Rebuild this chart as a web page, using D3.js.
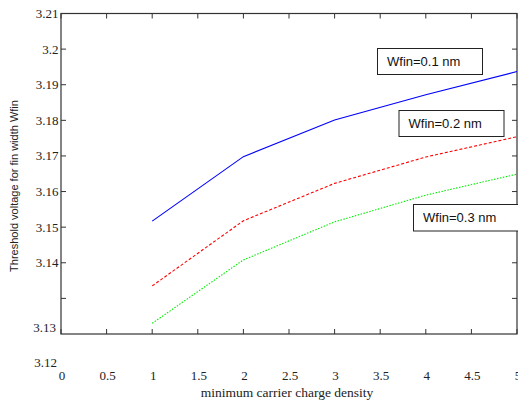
<!DOCTYPE html>
<html><head><meta charset="utf-8">
<script src="https://cdn.jsdelivr.net/npm/d3@7"></script>
<style>body{margin:0;background:#fff}svg{display:block}</style>
</head><body>
<svg id="c" width="518" height="403"></svg>
<script>
const xValues = [1, 2, 3, 4, 5];
const seriesNames = ["Wfin=0.1 nm", "Wfin=0.2 nm", "Wfin=0.3 nm"];
const wfin01 = [3.1517, 3.1698, 3.1801, 3.1872, 3.1937];
const wfin02 = [3.1335, 3.1518, 3.1623, 3.1697, 3.1754];
const wfin03 = [3.1230, 3.1408, 3.1515, 3.1590, 3.1649];
const xTicks = [0, 0.5, 1, 1.5, 2, 2.5, 3, 3.5, 4, 4.5, 5];
const yTicks = [3.13, 3.14, 3.15, 3.16, 3.17, 3.18, 3.19, 3.2, 3.21];
const yTickLabels = ["", "3.14", "3.15", "3.16", "3.17", "3.18", "3.19", "3.2", "3.21"];
const extraYLabels = ["3.13", "3.12"];
const colors = ["#0000ff", "#ff0000", "#00ee00"];
const dashes = [null, "3,2", "1.5,1.5"];

const svg = d3.select("#c");
const L = 61, R = 517, T = 13.5, B = 334;
const x = d3.scaleLinear().domain([0, 5]).range([L, R]);
const y = d3.scaleLinear().domain([3.12, 3.21]).range([B, T]);
const axisColor = "#333";
const serif = "'Liberation Serif','Times New Roman',serif";
const sans = "'Liberation Sans',Arial,sans-serif";
const fs = 13;

svg.append("rect").attr("x", L).attr("y", T).attr("width", R - L).attr("height", B - T)
  .attr("fill", "none").attr("stroke", axisColor).attr("stroke-width", 1.2);

const tl = 5;
const gx = svg.append("g").attr("stroke", axisColor).attr("stroke-width", 1);
xTicks.forEach(t => {
  gx.append("line").attr("x1", x(t)).attr("x2", x(t)).attr("y1", B).attr("y2", B - tl);
  gx.append("line").attr("x1", x(t)).attr("x2", x(t)).attr("y1", T).attr("y2", T + tl);
});
yTicks.forEach(t => {
  gx.append("line").attr("x1", L).attr("x2", L + tl).attr("y1", y(t)).attr("y2", y(t));
  gx.append("line").attr("x1", R).attr("x2", R - tl).attr("y1", y(t)).attr("y2", y(t));
});

yTicks.forEach((t, i) => {
  svg.append("text").attr("x", 58.5).attr("y", y(t)).attr("dy", "0.35em")
    .attr("text-anchor", "end").attr("font-family", serif).attr("font-size", fs)
    .attr("fill", "#222").text(yTickLabels[i]);
});
svg.append("text").attr("x", 56).attr("y", 332).attr("text-anchor", "end")
  .attr("font-family", serif).attr("font-size", fs).attr("fill", "#222").text(extraYLabels[0]);
svg.append("text").attr("x", 57).attr("y", 367).attr("text-anchor", "end")
  .attr("font-family", serif).attr("font-size", fs).attr("fill", "#222").text(extraYLabels[1]);

xTicks.forEach(t => {
  svg.append("text").attr("x", x(t) + 1).attr("y", 380).attr("text-anchor", "middle")
    .attr("font-family", serif).attr("font-size", fs).attr("fill", "#222").text(d3.format("")(t));
});
svg.append("text").attr("x", 287).attr("y", 397).attr("text-anchor", "middle")
  .attr("font-family", serif).attr("font-size", 13.5).attr("fill", "#222").text("minimum carrier charge density");
svg.append("text").attr("transform", "translate(18,186) rotate(-90)").attr("text-anchor", "middle")
  .attr("font-family", sans).attr("font-size", 11).attr("fill", "#222").text("Threshold voltage for fin width Wfin");

const line = d3.line().x((d, i) => x(xValues[i])).y(d => y(d));
[wfin01, wfin02, wfin03].forEach((s, i) => {
  svg.append("path").datum(s).attr("d", line).attr("fill", "none")
    .attr("stroke", colors[i]).attr("stroke-width", 1.1)
    .attr("stroke-dasharray", dashes[i]);
});

const boxes = [
  {x: 377.5, y: 48.5, w: 105, h: 26},
  {x: 399, y: 110.5, w: 105, h: 26},
  {x: 413.5, y: 204.5, w: 106, h: 26.5}
];
boxes.forEach((b, i) => {
  svg.append("rect").attr("x", b.x).attr("y", b.y).attr("width", b.w).attr("height", b.h)
    .attr("fill", "#fff").attr("stroke", "#222").attr("stroke-width", 1);
  svg.append("text").attr("x", b.x + 9.5).attr("y", b.y + 17.5)
    .attr("font-family", sans).attr("font-size", 13).attr("fill", "#111").text(seriesNames[i]);
});
</script>
</body></html>
